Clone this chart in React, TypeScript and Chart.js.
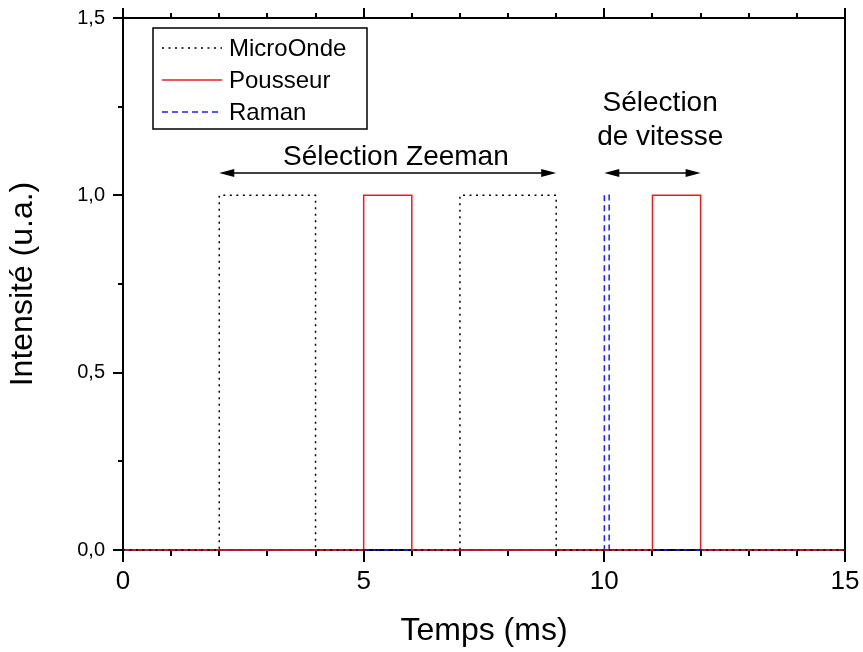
import React, { useEffect, useRef } from "react";
import { Chart, registerables } from "chart.js";

Chart.register(...registerables);

// ---- Data ----
const seriesNames = ["MicroOnde", "Pousseur", "Raman"];
const microOndeX = [0, 2, 2, 4, 4, 7, 7, 9, 9, 15];
const microOndeY = [0, 0, 1, 1, 0, 0, 1, 1, 0, 0];
const pousseurX = [0, 5, 5, 6, 6, 11, 11, 12, 12, 15];
const pousseurY = [0, 0, 1, 1, 0, 0, 1, 1, 0, 0];
const ramanX = [0, 10, 10, 10.1, 10.1, 15];
const ramanY = [0, 0, 1, 1, 0, 0];

const xMajorTicks = [0, 5, 10, 15];
const yMajorTicks = [0, 0.5, 1, 1.5];
const xMinorStep = 1;
const yMinorStep = 0.25;

const xTitle = "Temps (ms)";
const yTitle = "Intensité (u.a.)";

// annotation arrows (data coordinates)
const arrowStarts = [2, 10];
const arrowEnds = [9, 12];
const arrowLevels = [1.063, 1.063];

// annotation texts (data coordinates of text centre)
const noteTexts = ["Sélection Zeeman", "Sélection", "de vitesse"];
const noteX = [5.67, 11.16, 11.16];
const noteY = [1.108, 1.26, 1.164];

const FONT = "'Liberation Sans', Arial, Helvetica, sans-serif";

const COLORS = ["#000000", "#ee1c1c", "#1f1fff"];
const DASHES = [[2, 4.5], [], [6, 4]];

function toPoints(xs: number[], ys: number[]) {
  return xs.map((x, i) => ({ x, y: ys[i] }));
}

const overlayPlugin = {
  id: "overlay",
  beforeDatasetsDraw(chart: any) {
    const ctx = chart.ctx as CanvasRenderingContext2D;
    const { left, right, top, bottom } = chart.chartArea;
    const xs = chart.scales.x;
    const ys = chart.scales.y;
    ctx.save();
    ctx.strokeStyle = "#000";
    ctx.lineWidth = 2;
    ctx.setLineDash([]);
    ctx.strokeRect(left, top, right - left, bottom - top);

    // x ticks (bottom outward, top outward)
    const xmin = xs.min, xmax = xs.max;
    for (let v = xmin; v <= xmax + 1e-9; v += xMinorStep) {
      const isMajor = xMajorTicks.some((t) => Math.abs(t - v) < 1e-9);
      const px = Math.round(xs.getPixelForValue(v));
      ctx.beginPath();
      ctx.moveTo(px, bottom);
      ctx.lineTo(px, bottom + (isMajor ? 12 : 6));
      ctx.moveTo(px, top);
      ctx.lineTo(px, top - (isMajor ? 10 : 5));
      ctx.stroke();
    }
    // y ticks (left outward)
    for (let v = ys.min; v <= ys.max + 1e-9; v += yMinorStep) {
      const isMajor = yMajorTicks.some((t) => Math.abs(t - v) < 1e-9);
      const py = Math.round(ys.getPixelForValue(v));
      ctx.beginPath();
      ctx.moveTo(left, py);
      ctx.lineTo(left - (isMajor ? 10 : 5), py);
      ctx.stroke();
    }
    ctx.restore();
  },
  afterDatasetsDraw(chart: any) {
    const ctx = chart.ctx as CanvasRenderingContext2D;
    const xs = chart.scales.x;
    const ys = chart.scales.y;
    ctx.save();

    // arrows
    ctx.strokeStyle = "#000";
    ctx.fillStyle = "#000";
    ctx.lineWidth = 1.5;
    ctx.setLineDash([]);
    arrowStarts.forEach((x1, i) => {
      const p1 = xs.getPixelForValue(x1);
      const p2 = xs.getPixelForValue(arrowEnds[i]);
      const py = ys.getPixelForValue(arrowLevels[i]);
      const L = 15, H = 4;
      ctx.beginPath();
      ctx.moveTo(p1 + L - 2, py);
      ctx.lineTo(p2 - L + 2, py);
      ctx.stroke();
      ctx.beginPath();
      ctx.moveTo(p1, py);
      ctx.lineTo(p1 + L, py - H);
      ctx.lineTo(p1 + L, py + H);
      ctx.closePath();
      ctx.fill();
      ctx.beginPath();
      ctx.moveTo(p2, py);
      ctx.lineTo(p2 - L, py - H);
      ctx.lineTo(p2 - L, py + H);
      ctx.closePath();
      ctx.fill();
    });

    // texts
    ctx.font = `28px ${FONT}`;
    ctx.textAlign = "center";
    ctx.textBaseline = "middle";
    noteTexts.forEach((t, i) => {
      ctx.fillText(t, xs.getPixelForValue(noteX[i]), ys.getPixelForValue(noteY[i]));
    });

    // legend box
    const bx = 153, by = 28, bw = 214, bh = 101;
    ctx.fillStyle = "#fff";
    ctx.fillRect(bx, by, bw, bh);
    ctx.strokeStyle = "#000";
    ctx.lineWidth = 1.5;
    ctx.strokeRect(bx, by, bw, bh);
    ctx.font = `24px ${FONT}`;
    ctx.textAlign = "left";
    ctx.textBaseline = "middle";
    const rowY = [48, 80, 112];
    chart.data.datasets.forEach((ds: any, i: number) => {
      ctx.strokeStyle = ds.borderColor;
      ctx.lineWidth = 1.5;
      ctx.setLineDash(ds.borderDash || []);
      ctx.beginPath();
      ctx.moveTo(162, rowY[i]);
      ctx.lineTo(222, rowY[i]);
      ctx.stroke();
      ctx.setLineDash([]);
      ctx.fillStyle = "#000";
      ctx.fillText(ds.label, 229, rowY[i] + 1);
    });
    ctx.restore();
  },
};

export default function App() {
  const canvasRef = useRef<HTMLCanvasElement | null>(null);

  useEffect(() => {
    document.body.style.margin = "0";
    const canvas = canvasRef.current;
    if (!canvas) return;
    Chart.defaults.font.family = FONT;
    Chart.defaults.color = "#000";

    const chart = new Chart(canvas, {
      type: "line",
      data: {
        datasets: [
          {
            label: seriesNames[0],
            data: toPoints(microOndeX, microOndeY),
            borderColor: COLORS[0],
            borderDash: DASHES[0],
            borderWidth: 1.5,
            pointRadius: 0,
            tension: 0,
            clip: 5,
          },
          {
            label: seriesNames[1],
            data: toPoints(pousseurX, pousseurY),
            borderColor: COLORS[1],
            borderDash: DASHES[1],
            borderWidth: 1.5,
            pointRadius: 0,
            tension: 0,
            clip: 5,
          },
          {
            label: seriesNames[2],
            data: toPoints(ramanX, ramanY),
            borderColor: COLORS[2],
            borderDash: DASHES[2],
            borderWidth: 1.5,
            pointRadius: 0,
            tension: 0,
            clip: 5,
          },
        ] as any,
      },
      options: {
        animation: false,
        responsive: false,
        maintainAspectRatio: false,
        events: [],
        layout: { padding: { left: 0, right: 18, top: 18, bottom: 0 } },
        plugins: {
          legend: { display: false },
          tooltip: { enabled: false },
          title: { display: false },
        },
        scales: {
          x: {
            type: "linear",
            min: 0,
            max: 15,
            grid: { display: false, drawTicks: false },
            border: { display: false },
            afterBuildTicks: (s: any) => {
              s.ticks = xMajorTicks.map((v) => ({ value: v }));
            },
            afterFit: (s: any) => {
              s.height = 102;
              s.paddingLeft = 0;
              s.paddingRight = 0;
            },
            ticks: {
              padding: 16,
              font: { size: 26, family: FONT },
              color: "#000",
              maxRotation: 0,
              callback: (v: any) => String(v),
            },
            title: {
              display: true,
              text: xTitle,
              font: { size: 32, family: FONT },
              color: "#000",
              padding: { top: 0, bottom: 2 },
            },
          },
          y: {
            type: "linear",
            min: 0,
            max: 1.5,
            grid: { display: false, drawTicks: false },
            border: { display: false },
            afterBuildTicks: (s: any) => {
              s.ticks = yMajorTicks.map((v) => ({ value: v }));
            },
            afterFit: (s: any) => {
              s.width = 123;
              s.paddingTop = 0;
              s.paddingBottom = 0;
            },
            ticks: {
              padding: 18,
              font: { size: 20, family: FONT },
              color: "#000",
              callback: (v: any) => Number(v).toFixed(1).replace(".", ","),
            },
            title: {
              display: true,
              text: yTitle,
              font: { size: 32, family: FONT },
              color: "#000",
              padding: { top: 4, bottom: 0 },
            },
          },
        },
      },
      plugins: [overlayPlugin],
    });
    return () => chart.destroy();
  }, []);

  return (
    <div style={{ width: 863, height: 652, position: "relative", background: "#fff" }}>
      <canvas ref={canvasRef} width={863} height={652} style={{ display: "block", width: 863, height: 652 }} />
    </div>
  );
}
